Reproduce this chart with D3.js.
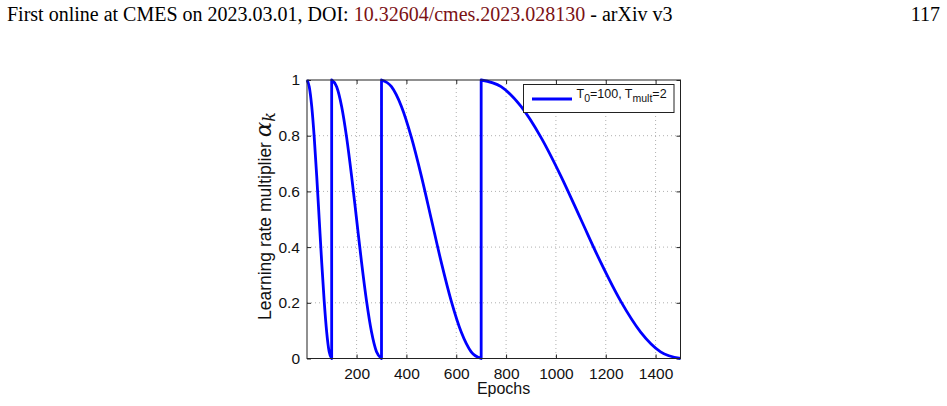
<!DOCTYPE html>
<html><head><meta charset="utf-8">
<script src="https://cdn.jsdelivr.net/npm/d3@7"></script>
<style>body{margin:0;background:#fff;}svg{display:block;}</style>
</head><body>
<script>
// Data (restart points appear twice: end of one cycle at 0, start of next at 1)
const epochs = [1,10,20,30,40,50,60,70,80,90,100,
  100,120,140,160,180,200,220,240,260,280,300,
  300,340,380,420,460,500,540,580,620,660,700,
  700,780,860,940,1020,1100,1180,1260,1340,1420,1500];
const multiplier = [1,0.976,0.905,0.794,0.655,0.5,0.345,0.206,0.095,0.024,0,
  1,0.976,0.905,0.794,0.655,0.5,0.345,0.206,0.095,0.024,0,
  1,0.976,0.905,0.794,0.655,0.5,0.345,0.206,0.095,0.024,0,
  1,0.976,0.905,0.794,0.655,0.5,0.345,0.206,0.095,0.024,0];
const xTicks = [200,400,600,800,1000,1200,1400];
const xTickLabels = ["200","400","600","800","1000","1200","1400"];
const yTicks = [0,0.2,0.4,0.6,0.8,1];
const yTickLabels = ["0","0.2","0.4","0.6","0.8","1"];

const W = 947, H = 406;
const svg = d3.select("body").append("svg").attr("width", W).attr("height", H);

// Page header
const hdr = svg.append("text").attr("x", 7).attr("y", 21)
  .attr("font-family", "Liberation Serif, Times New Roman, serif").attr("font-size", 20).attr("fill", "#000");
hdr.append("tspan").text("First online at CMES on 2023.03.01, DOI: ");
hdr.append("tspan").attr("fill", "#7b1114").text("10.32604/cmes.2023.028130");
hdr.append("tspan").text(" - arXiv v3");
svg.append("text").attr("x", 940).attr("y", 21).attr("text-anchor", "end")
  .attr("font-family", "Liberation Serif, Times New Roman, serif").attr("font-size", 20).text("117");

const L = 307, R = 680.5, T = 80, B = 358.5;
const x = d3.scaleLinear().domain([1, 1500]).range([L, R]);
const y = d3.scaleLinear().domain([0, 1]).range([B, T]);
const font = "Liberation Sans, Arial, sans-serif";

const g = svg.append("g");
// grid
g.selectAll(".gx").data(xTicks).join("line")
  .attr("x1", d => x(d)).attr("x2", d => x(d)).attr("y1", T).attr("y2", B)
  .attr("stroke", "#b0b0b0").attr("stroke-width", 1).attr("stroke-dasharray", "1,3");
g.selectAll(".gy").data(yTicks.slice(1, -1)).join("line")
  .attr("x1", L).attr("x2", R).attr("y1", d => y(d)).attr("y2", d => y(d))
  .attr("stroke", "#b0b0b0").attr("stroke-width", 1).attr("stroke-dasharray", "1,3");

// axes (MATLAB style inward ticks)
const xAxis = d3.axisBottom(x).tickValues(xTicks).tickFormat((d, i) => xTickLabels[i]).tickSize(-4).tickPadding(9);
const yAxis = d3.axisLeft(y).tickValues(yTicks).tickFormat((d, i) => yTickLabels[i]).tickSize(-4).tickPadding(7);
svg.append("g").attr("transform", `translate(0,${B})`).call(xAxis);
svg.append("g").attr("transform", `translate(${L},0)`).call(yAxis);
svg.append("g").attr("transform", `translate(0,${T})`).call(d3.axisTop(x).tickValues(xTicks).tickSize(-4).tickFormat(""));
svg.append("g").attr("transform", `translate(${R},0)`).call(d3.axisRight(y).tickValues(yTicks).tickSize(-4).tickFormat(""));
svg.selectAll(".domain").remove();
svg.selectAll(".tick line").attr("stroke", "#222");
svg.selectAll(".tick text").attr("font-family", font).attr("font-size", 15.5).attr("fill", "#111");

// curve: split into cycles at restarts
const pts = epochs.map((e, i) => [e, multiplier[i]]);
const segs = [];
let cur = [];
pts.forEach((p, i) => {
  if (i > 0 && p[0] === pts[i - 1][0]) { segs.push(cur); cur = []; }
  cur.push(p);
});
segs.push(cur);
const line = d3.line().x(d => x(d[0])).y(d => y(d[1])).curve(d3.curveMonotoneX);
let dstr = "";
segs.forEach((s, i) => {
  let p = line(s);
  if (i > 0) p = "L" + p.slice(1);
  dstr += p;
});
svg.append("path").attr("d", dstr).attr("fill", "none").attr("stroke", "#0000ff")
  .attr("stroke-width", 2.8).attr("stroke-linejoin", "round");

// frame
svg.append("rect").attr("x", L).attr("y", T).attr("width", R - L).attr("height", B - T)
  .attr("fill", "none").attr("stroke", "#222").attr("stroke-width", 1);

// axis labels
svg.append("text").attr("x", x(790)).attr("y", 394).attr("text-anchor", "middle")
  .attr("font-family", font).attr("font-size", 16).attr("fill", "#111").text("Epochs");
const yl = svg.append("text").attr("transform", "translate(271,216) rotate(-90)").attr("text-anchor", "middle")
  .attr("font-family", font).attr("font-size", 17.5).attr("fill", "#111");
yl.append("tspan").text("Learning rate multiplier ");
yl.append("tspan").attr("font-family", "DejaVu Serif, Liberation Serif, serif").attr("font-style", "italic").attr("font-size", 23).text("α");
yl.append("tspan").attr("font-family", "DejaVu Serif, Liberation Serif, serif").attr("font-style", "italic").attr("font-size", 16).attr("dy", 4).text("k");

// legend
const lg = svg.append("g");
lg.append("rect").attr("x", 523.5).attr("y", 84.5).attr("width", 150.5).attr("height", 28)
  .attr("fill", "#fff").attr("stroke", "#222").attr("stroke-width", 1);
lg.append("line").attr("x1", 532).attr("x2", 572).attr("y1", 99).attr("y2", 99)
  .attr("stroke", "#0000ff").attr("stroke-width", 2.8);
const lt = lg.append("text").attr("x", 576.5).attr("y", 97.5).attr("font-family", font).attr("font-size", 12.5).attr("fill", "#111");
lt.append("tspan").text("T");
lt.append("tspan").attr("font-size", 10.5).attr("dy", 4).text("0");
lt.append("tspan").attr("dy", -4).text("=100, T");
lt.append("tspan").attr("font-size", 10.5).attr("dy", 4).text("mult");
lt.append("tspan").attr("dy", -4).text("=2");
</script>
</body></html>
